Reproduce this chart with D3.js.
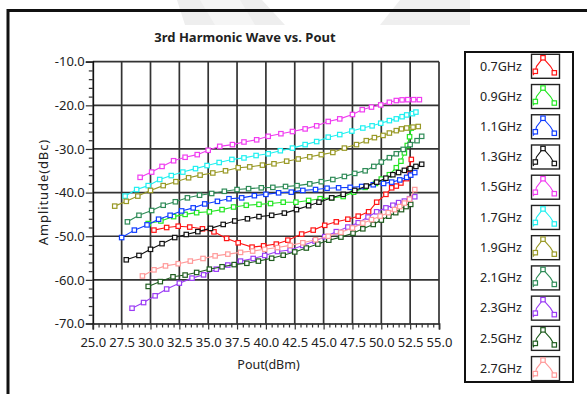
<!DOCTYPE html>
<html>
<head>
<meta charset="utf-8">
<script src="https://cdn.jsdelivr.net/npm/d3@7"></script>
<style>
  html, body { margin: 0; padding: 0; background: #fff; }
  svg { display: block; }
  text { font-family: "Noto Sans", "Liberation Sans", sans-serif; fill: #222; }
</style>
</head>
<body>
<svg id="chart" width="587" height="394"></svg>
<script>
// Axis ticks and labels
const xTickValues = [25.0, 27.5, 30.0, 32.5, 35.0, 37.5, 40.0, 42.5, 45.0, 47.5, 50.0, 52.5, 55.0];
const xTickLabels = ["25.0", "27.5", "30.0", "32.5", "35.0", "37.5", "40.0", "42.5", "45.0", "47.5", "50.0", "52.5", "55.0"];
const yTickValues = [-10, -20, -30, -40, -50, -60, -70];
const yTickLabels = ["-10.0", "-20.0", "-30.0", "-40.0", "-50.0", "-60.0", "-70.0"];

// Legend categories and their colours
const frequencies = ["0.7GHz", "0.9GHz", "1.1GHz", "1.3GHz", "1.5GHz", "1.7GHz", "1.9GHz", "2.1GHz", "2.3GHz", "2.5GHz", "2.7GHz"];
const seriesColors = ["#ff1414", "#22e622", "#0f3cff", "#111111", "#f03cf0", "#1ef0f0", "#999926", "#2e8b57", "#9b3cf5", "#1f5c1f", "#ff9a9a"];

// 3rd harmonic level (dBc) against output power (dBm), one array per frequency
const h07 = [[30.3,-48.6],[31.4,-48.0],[32.4,-47.7],[33.4,-47.9],[34.5,-48.3],[35.5,-49.0],[36.6,-50.5],[37.6,-51.5],[38.8,-52.5],[39.8,-52.2],[40.9,-51.8],[41.9,-50.9],[43.1,-49.5],[44.1,-48.6],[45.1,-47.5],[46.1,-46.7],[47.1,-46.1],[48.0,-45.4],[48.9,-44.4],[49.6,-42.2],[50.4,-40.4],[50.9,-38.9],[51.3,-38.5],[51.7,-37.8],[52.2,-36.8],[52.4,-34.7],[52.6,-32.4]];
const h09 = [[29.8,-47.1],[30.9,-46.5],[32.0,-45.5],[33.0,-45.0],[34.0,-44.6],[35.1,-44.4],[36.2,-43.9],[37.2,-43.3],[38.3,-42.9],[39.4,-42.7],[40.4,-42.5],[41.5,-42.2],[42.6,-42.2],[43.7,-41.8],[44.7,-41.4],[45.7,-41.2],[46.7,-40.9],[47.6,-39.9],[48.6,-38.8],[49.5,-37.9],[50.0,-36.9],[50.7,-35.9],[51.3,-34.3],[51.7,-32.8],[52.0,-30.9],[52.25,-29.2],[52.45,-27.2],[52.6,-25.2]];
const h11 = [[27.5,-50.3],[28.6,-48.6],[29.7,-47.4],[30.7,-46.1],[31.7,-45.2],[32.7,-44.2],[33.7,-43.5],[34.7,-42.6],[35.8,-42.0],[36.8,-41.4],[37.9,-41.2],[39.0,-40.7],[40.0,-40.4],[41.1,-40.05],[42.2,-39.9],[43.2,-39.5],[44.3,-39.3],[45.3,-39.0],[46.3,-38.9],[47.3,-38.8],[48.3,-38.6],[49.3,-38.2],[50.2,-37.9],[50.9,-37.6],[51.6,-37.1],[52.2,-36.5],[52.55,-36.0],[52.9,-35.4]];
const h13 = [[27.9,-55.4],[29.0,-54.4],[30.0,-53.0],[31.0,-51.7],[32.1,-50.3],[33.1,-49.6],[34.1,-48.95],[35.2,-48.2],[36.3,-47.3],[37.3,-46.5],[38.4,-46.0],[39.4,-45.5],[40.5,-45.2],[41.6,-44.7],[42.65,-43.9],[43.7,-43.0],[44.6,-42.2],[45.7,-41.2],[46.7,-40.4],[47.7,-39.5],[48.7,-38.5],[49.6,-37.6],[50.4,-36.7],[51.0,-35.9],[51.5,-35.4],[52.0,-34.9],[52.5,-34.5],[53.0,-34.0],[53.5,-33.5]];
const h15 = [[29.1,-36.5],[30.1,-35.3],[31.0,-34.0],[32.0,-32.7],[33.0,-31.9],[34.05,-31.3],[35.0,-30.3],[36.0,-29.4],[37.1,-29.0],[38.1,-28.4],[39.2,-27.9],[40.2,-27.1],[41.3,-26.5],[42.3,-26.0],[43.4,-25.4],[44.4,-24.7],[45.4,-23.7],[46.4,-23.1],[47.5,-22.1],[48.35,-21.0],[49.15,-20.4],[49.95,-19.9],[50.7,-19.3],[51.3,-18.9],[51.8,-18.75],[52.3,-18.7],[52.8,-18.7],[53.3,-18.7]];
const h17 = [[27.8,-40.8],[28.8,-39.3],[29.8,-38.4],[30.8,-37.0],[31.8,-36.1],[32.8,-35.3],[33.9,-34.5],[34.9,-33.8],[35.95,-33.1],[37.05,-32.4],[38.1,-32.05],[39.15,-31.5],[40.2,-31.1],[41.25,-30.4],[42.3,-29.8],[43.4,-29.0],[44.4,-28.3],[45.4,-27.3],[46.4,-26.7],[47.45,-25.9],[48.4,-25.2],[49.2,-24.7],[49.95,-24.1],[50.7,-23.5],[51.3,-23.1],[51.8,-22.6],[52.2,-22.2],[52.7,-21.9],[53.0,-21.55]];
const h19 = [[26.9,-43.1],[27.9,-42.0],[28.9,-40.8],[30.0,-39.5],[31.1,-38.4],[32.2,-37.5],[33.3,-36.6],[34.3,-36.0],[35.4,-35.5],[36.5,-35.0],[37.6,-34.3],[38.6,-34.1],[39.7,-33.7],[40.7,-33.4],[41.8,-32.8],[42.8,-32.3],[43.8,-31.8],[44.8,-31.3],[45.8,-30.8],[46.8,-29.8],[47.85,-29.0],[48.7,-28.1],[49.4,-27.4],[50.15,-26.9],[50.7,-26.35],[51.3,-25.8],[51.75,-25.4],[52.2,-25.2],[52.75,-25.0],[53.2,-24.85]];
const h21 = [[28.0,-46.7],[29.0,-45.2],[30.1,-44.1],[31.1,-42.9],[32.15,-42.1],[33.2,-41.2],[34.25,-40.6],[35.3,-40.2],[36.4,-39.7],[37.5,-39.3],[38.5,-39.1],[39.6,-38.9],[40.6,-38.8],[41.7,-38.6],[42.7,-38.4],[43.8,-38.0],[44.8,-37.5],[45.8,-37.0],[46.8,-36.3],[47.7,-35.6],[48.6,-35.0],[49.35,-34.0],[50.0,-33.0],[50.7,-32.0],[51.3,-31.1],[51.9,-30.1],[52.5,-29.0],[53.1,-28.1],[53.5,-27.1]];
const h23 = [[28.4,-66.5],[29.4,-65.2],[30.4,-63.65],[31.4,-62.1],[32.5,-60.75],[33.6,-59.6],[34.6,-58.85],[35.7,-57.55],[36.7,-56.6],[37.8,-55.7],[38.9,-55.1],[39.9,-54.4],[41.0,-53.5],[42.1,-53.15],[43.2,-52.1],[44.25,-51.1],[45.1,-50.1],[46.1,-48.95],[47.1,-47.9],[48.0,-46.9],[48.85,-45.6],[49.6,-44.4],[50.4,-43.5],[51.0,-42.9],[51.5,-42.3],[52.0,-41.95],[52.45,-41.4],[52.9,-40.95]];
const h25 = [[29.8,-61.5],[30.85,-60.4],[31.95,-59.3],[33.0,-58.9],[34.0,-58.3],[35.1,-57.55],[36.2,-57.0],[37.25,-56.5],[38.35,-56.2],[39.35,-55.7],[40.5,-55.05],[41.5,-54.35],[42.5,-53.6],[43.5,-52.7],[44.5,-51.8],[45.45,-50.9],[46.5,-50.2],[47.55,-49.3],[48.4,-48.3],[49.3,-47.3],[50.0,-46.3],[50.65,-45.4],[51.25,-44.6],[51.75,-43.9],[52.15,-43.2],[52.55,-42.7]];
const h27 = [[29.3,-59.1],[30.3,-57.7],[31.3,-56.8],[32.4,-56.3],[33.45,-55.7],[34.55,-55.1],[35.6,-54.5],[36.7,-54.1],[37.8,-53.7],[38.85,-53.4],[39.9,-53.0],[41.0,-52.6],[42.1,-52.1],[43.2,-51.5],[44.3,-50.8],[45.4,-50.0],[46.5,-49.1],[47.5,-48.1],[48.4,-47.0],[49.15,-46.2],[49.9,-45.4],[50.6,-44.6],[51.15,-43.9],[51.6,-43.2],[52.0,-42.4],[52.45,-41.5],[52.9,-39.3]];

const seriesData = [h07, h09, h11, h13, h15, h17, h19, h21, h23, h25, h27];

const svg = d3.select("#chart");

// faint grey shapes along the top edge
svg.append("polygon").attr("points", "177,0 262,0 285,25 185,25").attr("fill", "#eeeeee");
svg.append("polygon").attr("points", "200,0 240,0 255,25 215,25").attr("fill", "#f5f5f5");
svg.append("polygon").attr("points", "400,0 470,0 470,25 380,25").attr("fill", "#efefef");

// outer frame
svg.append("rect")
  .attr("x", 8).attr("y", 10.5).attr("width", 700).attr("height", 500)
  .attr("fill", "none").attr("stroke", "#111").attr("stroke-width", 3);

// plot area
const plot = { left: 92.8, right: 439, top: 61.7, bottom: 323.5 };
const x = d3.scaleLinear().domain([25, 55]).range([plot.left, plot.right]);
const y = d3.scaleLinear().domain([-70, -10]).range([plot.bottom, plot.top]);

svg.append("rect")
  .attr("x", plot.left).attr("y", plot.top)
  .attr("width", plot.right - plot.left).attr("height", plot.bottom - plot.top)
  .attr("fill", "#fff");

// grid
const grid = svg.append("g").attr("stroke", "#333").attr("stroke-width", 1.7);
grid.selectAll("line.v").data(xTickValues.slice(1)).join("line")
  .attr("x1", d => x(d)).attr("x2", d => x(d))
  .attr("y1", plot.top).attr("y2", plot.bottom);
grid.selectAll("line.h").data(yTickValues.slice(0, -1)).join("line")
  .attr("class", "h")
  .attr("x1", plot.left).attr("x2", plot.right)
  .attr("y1", d => y(d)).attr("y2", d => y(d));

// axes
const yMinor = d3.range(-70, -9, 2).filter(v => v % 10 !== 0);
const xMinor = d3.range(25, 55.01, 0.5).filter(v => Math.abs(v / 2.5 - Math.round(v / 2.5)) > 1e-6);

const yAxis = svg.append("g").attr("transform", `translate(${plot.left},0)`)
  .call(d3.axisLeft(y).tickValues(yTickValues).tickSize(7).tickPadding(1)
    .tickFormat((d, i) => yTickLabels[i]));
svg.append("g").attr("transform", `translate(${plot.left},0)`)
  .call(d3.axisLeft(y).tickValues(yMinor).tickSize(4).tickFormat(""))
  .call(g => g.select(".domain").remove());

const xAxis = svg.append("g").attr("transform", `translate(0,${plot.bottom})`)
  .call(d3.axisBottom(x).tickValues(xTickValues).tickSize(6).tickPadding(8)
    .tickFormat((d, i) => xTickLabels[i]));
svg.append("g").attr("transform", `translate(0,${plot.bottom})`)
  .call(d3.axisBottom(x).tickValues(xMinor).tickSize(4).tickFormat(""))
  .call(g => g.select(".domain").remove());

svg.selectAll(".domain").attr("stroke", "#111").attr("stroke-width", 1.7);
svg.selectAll(".tick line").attr("stroke", "#333").attr("stroke-width", 1.2);
svg.selectAll(".tick text").attr("font-size", 13).attr("font-family", "'Noto Sans', sans-serif").attr("fill", "#2a2a2a");

// axis titles and chart title
svg.append("text")
  .attr("x", 245).attr("y", 42).attr("text-anchor", "middle")
  .attr("font-size", 13).attr("font-weight", "bold").attr("fill", "#111")
  .text("3rd Harmonic Wave vs. Pout");

svg.append("text")
  .attr("x", 268.5).attr("y", 369).attr("text-anchor", "middle")
  .attr("font-size", 12.5)
  .text("Pout(dBm)");

svg.append("text")
  .attr("transform", "translate(48,192) rotate(-90)")
  .attr("text-anchor", "middle").attr("font-size", 13).attr("letter-spacing", 0.9)
  .text("Amplitude(dBc)");

// series: lines then hollow square markers
const line = d3.line().x(d => x(d[0])).y(d => y(d[1]));
const seriesG = svg.append("g");
seriesData.forEach((pts, i) => {
  const g = seriesG.append("g");
  g.append("path").datum(pts)
    .attr("d", line).attr("fill", "none")
    .attr("stroke", seriesColors[i]).attr("stroke-width", 1.1);
  g.selectAll("rect").data(pts).join("rect")
    .attr("x", d => x(d[0]) - 2.2).attr("y", d => y(d[1]) - 2.2)
    .attr("width", 4.4).attr("height", 4.4)
    .attr("fill", "#fff").attr("stroke", seriesColors[i]).attr("stroke-width", 1.2);
});

// legend
const legend = svg.append("g");
legend.append("rect")
  .attr("x", 465).attr("y", 52).attr("width", 108).attr("height", 330)
  .attr("fill", "#fff").attr("stroke", "#111").attr("stroke-width", 2);

const step = 30.23;
const iconPath = [[1.5, 21], [3.8, 17], [5, 12], [11.5, 3.5], [19, 12], [22.8, 18.5]];
const iconMarks = [[3.8, 17], [11.5, 3.5], [22.8, 18.5]];
frequencies.forEach((f, i) => {
  const cy = 66 + i * step;
  legend.append("text")
    .attr("x", 480).attr("y", cy + 4.5)
    .attr("font-size", 12.5).attr("fill", "#2a2a2a")
    .text(f);
  const ig = legend.append("g").attr("transform", `translate(531.5,${54.3 + i * step})`);
  ig.append("rect").attr("width", 28).attr("height", 24)
    .attr("fill", "#fff").attr("stroke", "#222").attr("stroke-width", 1.4);
  ig.append("path").attr("d", d3.line()(iconPath))
    .attr("fill", "none").attr("stroke", seriesColors[i]).attr("stroke-width", 1.1);
  ig.selectAll("rect.m").data(iconMarks).join("rect")
    .attr("class", "m")
    .attr("x", d => d[0] - 2.2).attr("y", d => d[1] - 2.2)
    .attr("width", 4.4).attr("height", 4.4)
    .attr("fill", "#fff").attr("stroke", seriesColors[i]).attr("stroke-width", 1.2);
});
</script>
</body>
</html>
